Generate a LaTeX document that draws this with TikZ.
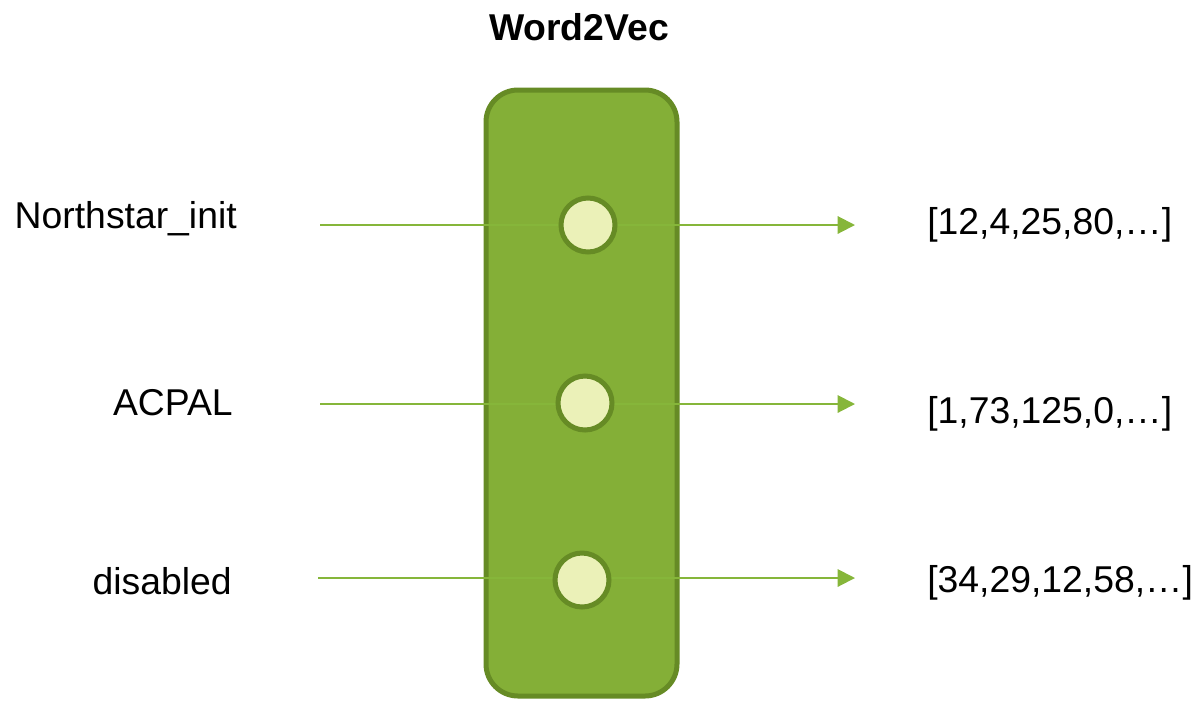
\documentclass[tikz,border=0pt]{standalone}
\usepackage{fontspec}
\setmainfont{Liberation Sans}
\usetikzlibrary{arrows.meta}
\definecolor{boxfill}{HTML}{84AF37}
\definecolor{boxdraw}{HTML}{668B25}
\definecolor{dotfill}{HTML}{EBF1B8}
\definecolor{arrowcol}{HTML}{86B63A}
\tikzset{
  lbl/.style={inner sep=0pt, font=\fontsize{28}{33}\selectfont},
  ttl/.style={inner sep=0pt, font=\fontsize{28}{33}\selectfont\bfseries},
  mainbox/.style={draw=boxdraw, fill=boxfill, line width=3.75pt, rounded corners=24pt},
  dot/.style={circle, draw=boxdraw, fill=dotfill, line width=3.75pt, minimum size=40.5pt, inner sep=0pt},
  flow/.style={draw=arrowcol, line width=1.5pt, -{Triangle[length=13pt,width=13pt]}}
}
\begin{document}
\begin{tikzpicture}[x=0.75pt,y=-0.75pt]
\useasboundingbox (0,0) rectangle (1198,701);
\node[ttl, anchor=base] (title) at (579,40) {Word2Vec};
\draw[mainbox] (486,90) rectangle (677,696);
\node[lbl, anchor=base east] (in1) at (237,228) {Northstar\_init};
\node[lbl, anchor=base east] (in2) at (233,415) {ACPAL};
\node[lbl, anchor=base east] (in3) at (232,594) {disabled};
\node[lbl, anchor=base west] (out1) at (927,234) {[12,4,25,80,…]};
\node[lbl, anchor=base west] (out2) at (927,423) {[1,73,125,0,…]};
\node[lbl, anchor=base west] (out3) at (927,592) {[34,29,12,58,…]};
\coordinate (s1) at (320,225);
\coordinate (e1) at (855,225);
\coordinate (s2) at (320,404);
\coordinate (e2) at (855,404);
\coordinate (s3) at (318,578);
\coordinate (e3) at (855,578);
\draw[flow] (s1) -- (e1);
\draw[flow] (s2) -- (e2);
\draw[flow] (s3) -- (e3);
\node[dot] (d1) at (588,225) {};
\node[dot] (d2) at (585,403) {};
\node[dot] (d3) at (582,580) {};
\end{tikzpicture}
\end{document}
